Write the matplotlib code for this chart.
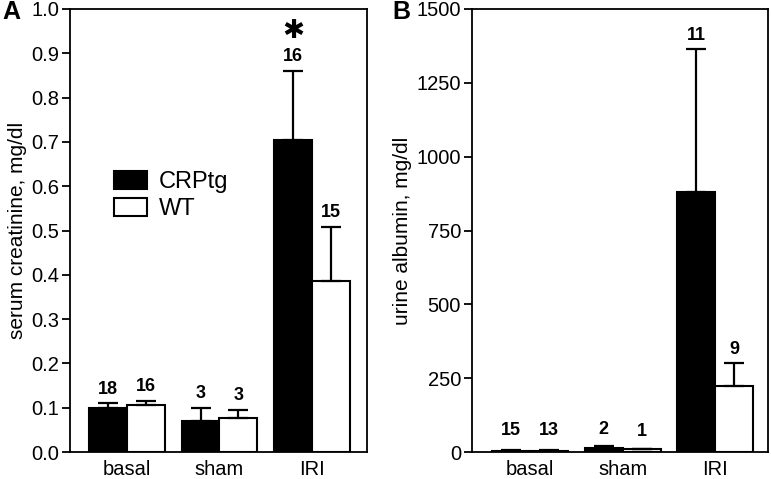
import matplotlib
matplotlib.use("Agg")
import matplotlib.pyplot as plt
import numpy as np
from matplotlib.patches import Patch

plt.rcParams['font.family'] = ['Liberation Sans', 'DejaVu Sans']

categories = ["basal", "sham", "IRI"]
series = ["CRPtg", "WT"]

# Panel A: serum creatinine
creat_crp = [0.100, 0.070, 0.705]
creat_crp_err = [0.010, 0.030, 0.155]
creat_wt = [0.105, 0.077, 0.387]
creat_wt_err = [0.010, 0.018, 0.121]
creat_n_crp = ["18", "3", "16"]
creat_n_wt = ["16", "3", "15"]

# Panel B: urine albumin
alb_crp = [5, 15, 882]
alb_crp_err = [1, 5, 482]
alb_wt = [5, 10, 223]
alb_wt_err = [1, 1, 77]
alb_n_crp = ["15", "2", "11"]
alb_n_wt = ["13", "1", "9"]

fig = plt.figure(figsize=(7.71, 4.79), dpi=100)
axA = fig.add_axes([70/771, 27/479, 297/771, 443/479])
axB = fig.add_axes([472/771, 27/479, 296/771, 443/479])

w = 0.41
x = np.arange(len(categories))

def draw(ax, crp, crp_err, wt, wt_err, n_crp, n_wt, ylim, yticks, ytl, ylabel, xlim, label_offsets=None):
    ekw = dict(elinewidth=1.6, capsize=7, capthick=1.6, ecolor='black')
    ax.bar(x - w/2, crp, w, color='black', edgecolor='black', linewidth=1.5,
           yerr=[np.zeros(3), crp_err], error_kw=ekw, zorder=2)
    ax.bar(x + w/2, wt, w, color='white', edgecolor='black', linewidth=1.5,
           yerr=[np.zeros(3), wt_err], error_kw=ekw, zorder=2)
    for i in range(3):
        for xx, m, e, t in [(x[i]-w/2, crp[i], crp_err[i], n_crp[i]), (x[i]+w/2, wt[i], wt_err[i], n_wt[i])]:
            off = 4
            if label_offsets is not None:
                off = label_offsets[i]
            ax.annotate(t, (xx, m+e), xytext=(0, off), textcoords='offset points',
                        ha='center', va='bottom', fontsize=13, fontweight='bold')
    ax.set_ylim(*ylim)
    ax.set_xlim(*xlim)
    ax.set_yticks(yticks)
    ax.set_yticklabels(ytl, fontsize=14.5)
    ax.set_xticks(x)
    ax.set_xticklabels(categories, fontsize=14.5)
    ax.tick_params(axis='x', length=0, pad=6)
    ax.tick_params(axis='y', length=6, width=1.3, pad=2)
    for s in ax.spines.values():
        s.set_linewidth(1.3)
    ax.set_ylabel(ylabel, fontsize=15, labelpad=3)

draw(axA, creat_crp, creat_crp_err, creat_wt, creat_wt_err, creat_n_crp, creat_n_wt,
     (0, 1.0), np.arange(0, 1.01, 0.1), [f"{v:.1f}" for v in np.arange(0, 1.01, 0.1)],
     "serum creatinine, mg/dl", (-0.616, 2.595))
draw(axB, alb_crp, alb_crp_err, alb_wt, alb_wt_err, alb_n_crp, alb_n_wt,
     (0, 1500), np.arange(0, 1501, 250), [str(v) for v in range(0, 1501, 250)],
     "urine albumin, mg/dl", (-0.627, 2.57), label_offsets=[8, 6, 4])

# significance asterisk
axA.annotate("\u2731", (x[2]-w/2, creat_crp[2]+creat_crp_err[2]), xytext=(0, 28.5),
             textcoords='offset points', ha='center', va='center', fontsize=19,
             family=['DejaVu Sans'], fontweight='bold')

handles = [Patch(facecolor='black', edgecolor='black', linewidth=1.5),
           Patch(facecolor='white', edgecolor='black', linewidth=1.5)]
axA.legend(handles, series, loc='upper left', bbox_to_anchor=(0.148, 0.635), frameon=False,
           borderaxespad=0, borderpad=0,
           fontsize=17, handlelength=1.4, handleheight=0.8, handletextpad=0.5, labelspacing=0.2)

fig.text(2/771, 1-12/479, "A", fontsize=18, fontweight='bold', va='center', ha='left')
fig.text(392/771, 1-12/479, "B", fontsize=18, fontweight='bold', va='center', ha='left')

fig.savefig("out.png", dpi=100)
